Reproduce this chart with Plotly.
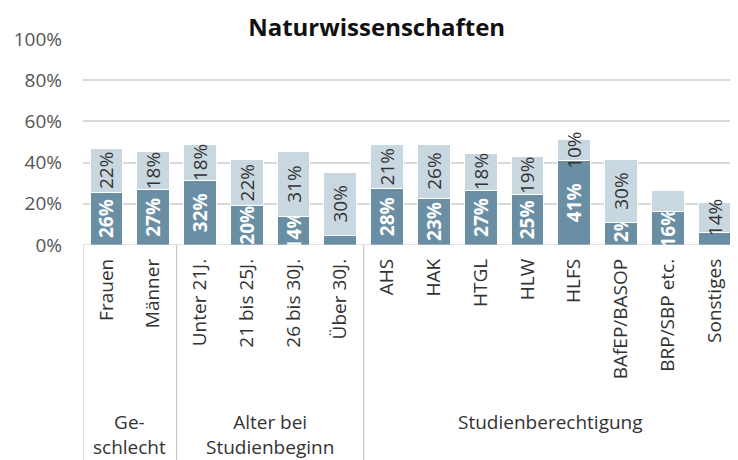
import plotly.graph_objects as go

categories = ["Frauen", "Männer", "Unter 21J.", "21 bis 25J.", "26 bis 30J.", "Über 30J.",
              "AHS", "HAK", "HTGL", "HLW", "HLFS", "BAfEP/BASOP", "BRP/SBP etc.", "Sonstiges"]
dark_values = [25.6, 26.8, 31.3, 19.2, 13.7, 4.6, 27.4, 22.8, 26.7, 24.4, 41.0, 11.0, 16.4, 6.1]
light_values = [21.3, 18.7, 17.6, 22.1, 31.7, 30.8, 21.2, 26.2, 17.9, 18.8, 10.1, 30.3, 10.0, 14.5]
dark_labels = ["26%", "27%", "32%", "20%", "14%", "", "28%", "23%", "27%", "25%", "41%", "12%", "16%", ""]
light_labels = ["22%", "18%", "18%", "22%", "31%", "30%", "21%", "26%", "18%", "19%", "10%", "30%", "", "14%"]
group_names = ["Ge-<br>schlecht", "Alter bei<br>Studienbeginn", "Studienberechtigung"]
group_sizes = [2, 4, 8]
y_ticks = [0, 0.2, 0.4, 0.6, 0.8, 1.0]

FONT = "Open Sans"
DARK = "#6a8fa4"
LIGHT = "#c9d7e0"

fig = go.Figure()
fig.add_trace(go.Bar(
    x=categories, y=[v / 100 for v in dark_values], text=dark_labels,
    marker=dict(color=DARK, line=dict(color="white", width=1)),
    textposition="inside", insidetextanchor="middle", textangle=-90,
    constraintext="none", cliponaxis=True,
    insidetextfont=dict(family=FONT, size=19, color="white", weight="bold"),
    width=0.7, hoverinfo="skip",
))
fig.add_trace(go.Bar(
    x=categories, y=[v / 100 for v in light_values], text=light_labels,
    marker=dict(color=LIGHT, line=dict(color="white", width=1)),
    textposition="inside", insidetextanchor="middle", textangle=-90,
    constraintext="none", cliponaxis=False,
    insidetextfont=dict(family=FONT, size=19, color="#333333"),
    width=0.7, hoverinfo="skip",
))

shapes = []
annotations = []
start = 0
bounds = [-0.5]
for name, size in zip(group_names, group_sizes):
    center = start + (size - 1) / 2
    annotations.append(dict(
        x=center, y=-0.785, xref="x", yref="paper", text=name, showarrow=False,
        xanchor="center", yanchor="top", align="center",
        font=dict(family=FONT, size=19, color="#333333"),
    ))
    start += size
    bounds.append(start - 0.5)
for b in bounds:
    shapes.append(dict(type="line", x0=b, x1=b, xref="x", y0=0, y1=-1.05, yref="paper",
                       line=dict(color="#c8c8c8", width=1.2)))
shapes.append(dict(type="line", x0=-0.5, x1=len(categories) - 0.5, xref="x", y0=0, y1=0,
                   yref="y", line=dict(color="#c8c8c8", width=1.2)))

fig.update_layout(
    width=730, height=452,
    margin=dict(l=75, r=0, t=31, b=215),
    barmode="stack",
    showlegend=False,
    plot_bgcolor="white", paper_bgcolor="white",
    title=dict(text="<b>Naturwissenschaften</b>", x=0.505, xanchor="center", y=0.957, yanchor="middle",
               font=dict(family=FONT, size=24, color="#111111")),
    shapes=shapes, annotations=annotations,
)
fig.update_yaxes(
    range=[0, 1], tickvals=y_ticks, tickformat=".0%",
    showgrid=True, gridcolor="#d9d9d9", gridwidth=1.5,
    zeroline=False, showline=False,
    ticks="", ticklabelstandoff=20,
    tickfont=dict(family=FONT, size=19, color="#555555"),
)
fig.update_xaxes(
    type="category", range=[-0.5, len(categories) - 0.5],
    tickangle=-90, showgrid=False, showline=False, zeroline=False,
    ticks="", ticklabelstandoff=9,
    tickfont=dict(family=FONT, size=19, color="#333333"),
)

fig.write_html("out.html")
